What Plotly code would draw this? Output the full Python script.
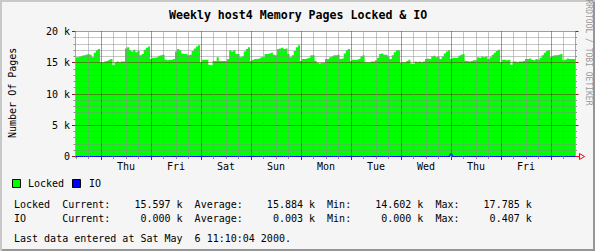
import math
import plotly.graph_objects as go

# ---------------- data (thousands of pages, one sample per hour) ----------------
day_names = ["Thu", "Fri", "Sat", "Sun", "Mon", "Tue", "Wed", "Thu", "Fri"]
y_tick_values = [0, 5000, 10000, 15000, 20000]
y_tick_labels = ["0", "5 k", "10 k", "15 k", "20 k"]

locked_wed = [15.9, 15.9, 16.0, 16.1, 16.2, 16.3, 16.4, 16.3, 15.9, 16.6, 17.0, 17.2]
locked_thu = [15.1, 15.1, 15.2, 15.3, 15.5, 15.6, 14.6, 15.1, 15.2, 15.1, 15.2, 15.2,
              17.3, 17.5, 17.0, 16.8, 17.1, 16.7, 16.9, 16.2, 16.4, 17.1, 17.4, 17.6]
locked_fri = [15.6, 15.8, 15.8, 15.9, 16.1, 16.2, 16.3, 15.5, 15.4, 15.5, 15.5, 15.6,
              16.8, 17.2, 17.0, 16.5, 16.4, 16.4, 16.2, 16.3, 16.9, 17.3, 17.6, 17.8]
locked_sat = [15.1, 15.5, 15.5, 15.5, 14.7, 14.6, 15.3, 15.3, 15.9, 15.3, 15.3, 15.3,
              15.3, 15.6, 17.0, 16.8, 17.0, 16.4, 16.4, 15.9, 16.0, 16.8, 17.2, 17.5]
locked_sun = [15.3, 15.5, 15.6, 15.6, 15.7, 15.9, 15.9, 16.4, 16.4, 16.5, 16.6, 16.3,
              16.2, 17.2, 17.3, 17.4, 17.2, 17.3, 16.4, 15.9, 16.2, 16.9, 17.5, 17.8]
locked_mon = [15.3, 15.6, 15.6, 15.7, 15.8, 16.2, 16.2, 15.3, 15.0, 14.9, 15.0, 15.0,
              15.6, 15.6, 15.9, 16.0, 16.2, 16.2, 16.3, 15.6, 15.7, 16.5, 17.0, 17.2]
locked_tue = [15.3, 15.5, 15.5, 15.5, 15.6, 16.0, 16.2, 15.1, 15.1, 15.1, 15.2, 15.2,
              15.4, 15.8, 16.4, 16.5, 16.3, 16.3, 16.0, 15.6, 16.2, 16.7, 17.0, 17.0]
locked_wed2 = [14.95, 15.1, 15.1, 15.3, 15.5, 14.9, 14.8, 15.2, 15.1, 15.2, 15.1, 15.2,
               15.6, 15.7, 15.6, 16.0, 16.1, 15.9, 16.0, 15.6, 16.0, 16.5, 16.8, 17.0]
locked_thu2 = [15.6, 15.8, 15.8, 15.8, 16.1, 16.3, 16.4, 15.3, 15.3, 15.2, 15.3, 15.4,
               15.4, 15.9, 15.8, 16.0, 15.9, 16.0, 15.6, 15.9, 16.3, 16.6, 16.9, 17.1]
locked_fri2 = [15.1, 15.5, 15.5, 15.4, 15.5, 14.7, 15.2, 15.2, 15.1, 15.2, 15.2, 15.3,
               15.6, 15.6, 15.7, 15.5, 15.4, 15.6, 15.5, 15.8, 16.2, 16.6, 16.9, 17.0]
locked_sat2 = [15.9, 16.1, 16.2, 16.2, 16.3, 16.4, 15.4, 15.5, 15.7, 15.6, 15.6, 15.6]

io_wed = [0, 0, 0, 0, 0, 0, 0, 0, 0, 0, 0, 0]
io_thu = [0, 0, 0, 0, 0, 0, 0, 0, 0, 0, 0, 0, 0, 0, 0, 0, 0, 0, 0, 0, 0, 0, 0, 0]
io_fri = [0, 0, 0, 0, 0, 0, 0, 0, 0, 0, 0, 0, 0, 0, 0, 0, 0, 0, 0, 0, 0, 0, 0, 0]
io_sat = [0, 0, 0, 0, 0, 0, 0, 0, 0, 0, 0, 0, 0, 0, 0, 0, 0, 0, 0, 0, 0, 0, 0, 0]
io_sun = [0, 0, 0, 0, 0, 0, 0, 0, 0, 0, 0, 0, 0, 0, 0, 0, 0, 0, 0, 0, 0, 0, 0, 0]
io_mon = [0, 0, 0, 0, 0, 0, 0, 0, 0, 0, 0, 0, 0, 0, 0, 0, 0, 0, 0, 0, 0, 0, 0, 0]
io_tue = [0, 0, 0, 0, 0, 0, 0, 0, 0, 0, 0, 0, 0, 0, 0, 0, 0, 0, 0, 0, 0, 0, 0, 0]
io_wed2 = [0, 0, 0, 0, 0, 0, 0, 0, 0, 0, 0, 0, 0, 0, 0, 0, 0, 0, 0, 0, 0, 0, 0, 0]
io_thu2 = [0.407, 0, 0, 0, 0, 0, 0, 0, 0, 0, 0, 0, 0, 0, 0, 0, 0, 0, 0, 0, 0, 0, 0, 0]
io_fri2 = [0, 0, 0, 0, 0, 0, 0, 0, 0, 0, 0, 0, 0, 0, 0, 0, 0, 0, 0, 0, 0, 0, 0, 0]
io_sat2 = [0, 0, 0, 0, 0, 0, 0, 0, 0, 0, 0, 0]

stat_labels = ["Current", "Average", "Min", "Max"]
locked_stats = [15.597, 15.884, 14.602, 17.785]
io_stats = [0.000, 0.003, 0.000, 0.407]
last_update = "Last data entered at Sat May  6 11:10:04 2000."
title_text = "Weekly host4 Memory Pages Locked & IO"
credit_text = "RRDTOOL / TOBI OETIKER"

locked_k = (locked_wed + locked_thu + locked_fri + locked_sat + locked_sun + locked_mon
            + locked_tue + locked_wed2 + locked_thu2 + locked_fri2 + locked_sat2)
io_k = (io_wed + io_thu + io_fri + io_sat + io_sun + io_mon + io_tue + io_wed2
        + io_thu2 + io_fri2 + io_sat2)

# ---------------- geometry / style ----------------
W, H = 595, 251
L, R, T, B = 75, 575, 31, 157          # plot area in pixels
X_START = -12.5                         # hours relative to first Thursday 00:00
X_END = 227.5
Y_RANGE = [-80, 20080]

BACK = "#F5F5F5"
CANVAS = "#FFFFFF"
GRID = "#8C8C8C"
MGRID = "#821E1E"
SHADEA = "#C8C8C8"
SHADEB = "#969696"
ARROW = "#FF0000"
FONT = "DejaVu Sans Mono"


def px(x):
    return (x - L) / (R - L)


def py(y):
    return (B - y) / (B - T)


def hour_pix(h):
    """pixel column centre for an hour value (snapped for crisp 1px lines)"""
    return math.floor(L + (h - X_START) * (R - L) / (X_END - X_START)) + 0.5


def val_pix(v):
    """pixel row centre for a value (snapped for crisp 1px lines)"""
    return math.floor(T + (Y_RANGE[1] - v) / (Y_RANGE[1] - Y_RANGE[0]) * (B - T)) + 0.5


hours = [X_START + i for i in range(len(locked_k))]
x_step = hours + [hours[-1] + 1]
locked = [v * 1000 for v in locked_k]
io = [v * 1000 for v in io_k]

fig = go.Figure()
fig.add_trace(go.Scatter(
    x=x_step, y=locked + [locked[-1]], mode="lines",
    line=dict(width=0, shape="hv"), fill="tozeroy", fillcolor="#00FF00",
    hoverinfo="skip", showlegend=False))
fig.add_trace(go.Scatter(
    x=x_step, y=io + [io[-1]], mode="lines",
    line=dict(width=1, color="#0000FF", shape="hv"),
    hoverinfo="skip", showlegend=False))

shapes = []


def seg(x0, y0, x1, y1, color, dash=None):
    ln = dict(color=color, width=1)
    if dash:
        ln["dash"] = dash
    shapes.append(dict(type="line", xref="paper", yref="paper", x0=px(x0), x1=px(x1),
                       y0=py(y0), y1=py(y1), line=ln, layer="above"))


# horizontal grid (dotted, above data)
for v in range(1000, 20001, 1000):
    major = v % 5000 == 0
    yy = val_pix(v)
    seg(L + 0.5, yy, R + 0.5, yy, MGRID if major else GRID, "1px,1px")
# vertical grid
for h in range(-6, 228, 6):
    major = h % 24 == 0
    xx = hour_pix(h)
    seg(xx, val_pix(0), xx, T, MGRID if major else GRID, "1px,1px")
# axis lines
seg(L + 0.5, B + 1, L + 0.5, T, "#A8A8A8")
seg(R + 0.5, val_pix(0), R + 0.5, T, "#A8A8A8")
# x ticks
for h in range(-12, 228, 6):
    major = h % 24 == 0
    xx = hour_pix(h)
    seg(xx, B, xx, B + (3 if major else 2), MGRID if major else GRID)
# y ticks (left and right)
for v in range(0, 20001, 1000):
    major = v % 5000 == 0
    yy = val_pix(v)
    seg(L - (3 if major else 1.5), yy, L + 0.5, yy, MGRID if major else GRID)
    seg(R + 0.5, yy, R + (3.5 if major else 2), yy, MGRID if major else GRID)
# arrow at end of x axis
y0p = val_pix(0)
seg(R, y0p, R + 4.5, y0p, ARROW)
shapes.append(dict(type="path", xref="paper", yref="paper",
                   path="M {a},{b} L {c},{d} L {a},{e} Z".format(
                       a=px(R + 4.5), b=py(y0p - 3), c=px(R + 9.5), d=py(y0p), e=py(y0p + 3)),
                   line=dict(color=ARROW, width=1), fillcolor="rgba(0,0,0,0)", layer="above"))
# 3D border
def box(x0, y0, x1, y1, fill, line=None):
    shapes.append(dict(type="rect", xref="paper", yref="paper", x0=px(x0), x1=px(x1),
                       y0=py(y0), y1=py(y1), fillcolor=fill,
                       line=line or dict(width=0), layer="above"))


box(0, 0, W, 2, SHADEA)
box(0, 0, 2, H, SHADEA)
box(2, H - 2, W, H, SHADEB)
box(W - 2, 2, W, H, SHADEB)
# legend boxes
box(12.5, 179.5, 20.5, 187.5, "#00FF00", dict(color="#000000", width=1))
box(72.5, 179.5, 80.5, 187.5, "#0000FF", dict(color="#000000", width=1))


def nb(s):
    return s.replace(" ", "\u00a0")


def stat_line(name, vals):
    blocks = [f"{lab}:{v:10.3f} k" for lab, v in zip(stat_labels, vals)]
    return nb(f"{name:<8}" + "  ".join(blocks))


annotations = []


def text(x, y, s, size=10, anchor="left", color="#000000", weight="normal", **kw):
    annotations.append(dict(xref="paper", yref="paper", x=px(x), y=py(y), text=s,
                            showarrow=False, xanchor=anchor, yanchor="middle",
                            font=dict(family=FONT, size=size, color=color, weight=weight), **kw))


text(297.5, 14.5, title_text, size=11.6, anchor="center", weight="bold")
text(12.5, 93.5, "Number Of Pages", anchor="center", textangle=-90)
text(26, 183.5, "Locked")
text(87, 183.5, "IO")
text(12, 204, stat_line("Locked", locked_stats))
text(12, 218, stat_line("IO", io_stats))
text(12, 238, nb(last_update))
text(588.5, 52, nb(credit_text), size=8, anchor="center", textangle=90, color="#999999")

fig.update_layout(
    width=W, height=H,
    margin=dict(l=L, r=W - R, t=T, b=H - B, pad=0),
    paper_bgcolor=BACK, plot_bgcolor=CANVAS,
    showlegend=False, hovermode=False,
    shapes=shapes, annotations=annotations,
    xaxis=dict(range=[X_START, X_END], showgrid=False, zeroline=False, showline=False,
               tickmode="array", tickvals=[12 + 24 * i for i in range(len(day_names))],
               ticktext=day_names, ticks="", ticklabelstandoff=2,
               tickfont=dict(family=FONT, size=10, color="#000000"), fixedrange=True),
    yaxis=dict(range=Y_RANGE, showgrid=False, zeroline=False, showline=False,
               tickmode="array", tickvals=y_tick_values, ticktext=y_tick_labels,
               ticks="", ticklabelstandoff=4,
               tickfont=dict(family=FONT, size=10, color="#000000"), fixedrange=True),
)

fig.write_html("out.html", config={"displayModeBar": False, "staticPlot": True})
